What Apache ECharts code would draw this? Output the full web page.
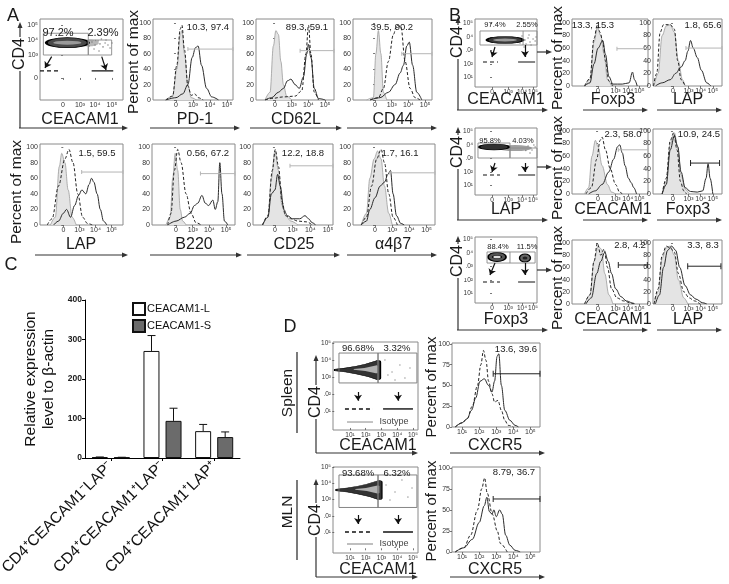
<!DOCTYPE html>
<html><head><meta charset="utf-8">
<script src="https://cdn.jsdelivr.net/npm/echarts@6/dist/echarts.min.js"></script>
<style>html,body{margin:0;padding:0;background:#fff}#c{width:729px;height:584px}</style>
</head><body><div id="c"></div>
<script>
// ---------------- DATA ----------------
// Panel C bar chart
const cCategories = ['CD4⁺CEACAM1⁻LAP⁻', 'CD4⁺CEACAM1⁺LAP⁻', 'CD4⁺CEACAM1⁺LAP⁺'];
const ceacamL = [2, 271, 68];
const ceacamLErr = [0.6, 39, 17];
const ceacamS = [1.5, 94, 53];
const ceacamSErr = [0.4, 32, 13];

// tick labels
const xTicksA = [0, 1, 2, 3];
const xLabelsA = ['0', '10³', '10⁴', '10⁵'];
const xTicksB1 = [0, 1.3, 2.2, 3.05];
const xTicksB2 = [0, 1.15, 2.05, 2.95];
const yTicksPct = [0, 20, 40, 60, 80, 100];
const yTicksD = [0, 25, 50, 75, 100];
const logTicks = [1, 2, 3, 4, 5];
const logLabels = ['10¹', '10²', '10³', '10⁴', '10⁵'];
const yTicksA1 = [0, 1.53, 2.53, 3.53];
const yLabelsA1 = ['0', '10³', '10⁴', '10⁵'];
const xTicksA1 = [0, 1.06, 2, 3.06];
const xTicksBdot = [0, 1.19, 2.22, 3.04];
const yTicksBdot = [0.75, 1.7, 2.75, 3.7, 4.75];

// Panel A histograms: isotype (grey fill), CEACAM1- (dashed), CEACAM1+ (solid)
const pd1Iso = [[-0.6,0],[-0.2,5],[0.05,40],[0.25,85],[0.35,90],[0.5,60],[0.7,20],[0.9,3],[1.2,0]];
const pd1Neg = [[-0.6,0],[-0.2,5],[0.05,45],[0.25,92],[0.35,97],[0.5,65],[0.7,18],[0.9,6],[1.1,8],[1.3,3],[1.6,0]];
const pd1Pos = [[-0.6,0],[0,3],[0.4,8],[0.7,20],[0.95,55],[1.15,68],[1.3,70],[1.5,45],[1.8,15],[2.1,4],[2.5,0]];
const pd1Gate = [0.7, 3.35, 66];
const cd62lIso = [[-0.6,0],[-0.3,10],[-0.1,70],[0.05,90],[0.2,85],[0.35,50],[0.5,20],[0.7,5],[1.0,0]];
const cd62lNeg = [[-0.6,0],[-0.2,2],[0.5,4],[1.2,5],[1.6,12],[1.85,60],[2.0,97],[2.15,60],[2.35,10],[2.6,0]];
const cd62lPos = [[-0.6,0],[-0.2,3],[0.2,10],[0.5,15],[0.75,25],[0.95,27],[1.2,20],[1.45,15],[1.7,30],[1.9,60],[2.0,72],[2.15,55],[2.35,15],[2.6,2],[3.0,0]];
const cd62lGate = [1.5, 3.53, 64];
const cd44Iso = [[-0.5,0],[-0.1,3],[0.05,60],[0.2,90],[0.35,60],[0.5,10],[0.7,0]];
const cd44Neg = [[-0.3,0],[0.2,3],[0.5,15],[0.8,50],[1.1,85],[1.3,97],[1.55,95],[1.8,50],[2.1,15],[2.4,3],[2.7,0]];
const cd44Pos = [[-0.3,0],[0.3,3],[0.8,10],[1.2,20],[1.5,35],[1.7,45],[1.9,70],[2.05,75],[2.25,45],[2.5,10],[2.8,0]];
const cd44Gate = [1.6, 3.41, 60];
const lapAIso = [[-0.8,0],[-0.5,10],[-0.25,75],[-0.1,92],[0.1,80],[0.3,45],[0.55,10],[0.8,0]];
const lapANeg = [[-1.0,0],[-0.7,8],[-0.3,50],[0.1,85],[0.35,97],[0.6,80],[0.9,40],[1.2,10],[1.5,2],[1.8,0]];
const lapAPos = [[-0.6,0],[-0.3,5],[0,15],[0.2,20],[0.45,10],[0.7,25],[0.95,38],[1.15,45],[1.4,40],[1.6,52],[1.75,60],[1.9,55],[2.1,40],[2.3,20],[2.5,5],[2.7,0]];
const lapAGate = [1.14, 3.71, 68];
const b220Iso = [[-0.6,0],[-0.35,10],[-0.2,60],[-0.05,92],[0.1,70],[0.25,20],[0.4,5],[0.6,0]];
const b220Neg = [[-0.5,0],[-0.3,15],[-0.1,70],[0.1,97],[0.3,80],[0.6,40],[0.9,15],[1.2,3],[1.5,0]];
const b220Pos = [[-0.5,0],[0,5],[0.5,10],[0.85,15],[1.1,25],[1.3,28],[1.55,38],[1.75,28],[1.95,25],[2.2,32],[2.35,20],[2.5,30],[2.62,80],[2.75,40],[2.9,5],[3.1,0]];
const b220Gate = [1.46, 3.53, 66];
const cd25Iso = [[-0.7,0],[-0.4,10],[-0.2,60],[0,95],[0.2,70],[0.4,25],[0.6,12],[0.9,5],[1.3,0]];
const cd25Neg = [[-0.7,0],[-0.4,12],[-0.15,70],[0.02,97],[0.2,75],[0.4,30],[0.6,12],[0.9,8],[1.3,5],[1.8,4],[2.1,0]];
const cd25Pos = [[-0.7,0],[-0.4,10],[-0.2,40],[0,45],[0.15,65],[0.3,50],[0.5,20],[0.7,12],[1.0,8],[1.4,8],[1.7,12],[1.9,8],[2.1,3],[2.3,0]];
const cd25Gate = [0.85, 3.28, 76];
const a4b7Iso = [[-0.8,0],[-0.5,15],[-0.3,60],[-0.05,85],[0.15,95],[0.35,85],[0.55,50],[0.8,15],[1.0,0]];
const a4b7Neg = [[-0.8,0],[-0.5,10],[-0.2,50],[0.1,85],[0.35,97],[0.55,80],[0.8,40],[1.05,10],[1.3,0]];
const a4b7Pos = [[-0.8,0],[-0.5,5],[-0.3,20],[0,35],[0.3,50],[0.55,55],[0.75,65],[0.9,70],[1.05,40],[1.25,12],[1.5,2],[1.7,0]];
const a4b7Gate = [0.87, 3.49, 67];

// Panel B histograms
const foxp3B1Iso = [[-1.0,0],[-0.6,10],[-0.3,70],[-0.05,92],[0.2,80],[0.45,50],[0.7,10],[1.0,0]];
const foxp3B1Neg = [[-1.0,0],[-0.6,12],[-0.3,75],[-0.05,97],[0.15,85],[0.35,70],[0.55,40],[0.8,8],[1.1,0]];
const foxp3B1Pos = [[-1.0,0],[-0.6,5],[-0.3,35],[0,60],[0.35,72],[0.55,50],[0.8,15],[1.1,3],[1.8,3],[2.3,5],[2.55,22],[2.7,10],[2.9,0]];
const foxp3B1Gate = [1.4, 3.7, 59];
const lapB1Iso = [[-1.4,0],[-1.1,20],[-0.8,80],[-0.5,95],[-0.2,97],[0.1,85],[0.4,40],[0.7,10],[0.9,0]];
const lapB1Neg = [[-1.45,0],[-1.2,20],[-0.95,85],[-0.7,97],[-0.2,97],[0.1,90],[0.35,40],[0.6,10],[0.9,0]];
const lapB1Pos = [[-1.3,0],[-0.8,5],[-0.2,10],[0.2,20],[0.6,30],[0.9,40],[1.1,55],[1.3,72],[1.5,60],[1.8,45],[2.1,25],[2.5,5],[2.8,0]];
const lapB1Gate = [0.96, 3.63, 60];
const ceacamB2Iso = [[-1.0,0],[-0.7,10],[-0.45,60],[-0.2,85],[0,75],[0.3,45],[0.7,15],[1.0,3],[1.3,0]];
const ceacamB2Neg = [[-0.9,0],[-0.5,10],[-0.1,55],[0.15,85],[0.3,90],[0.55,70],[0.9,40],[1.3,15],[1.6,3],[1.8,0]];
const ceacamB2Pos = [[-0.7,0],[-0.2,5],[0.3,15],[0.8,35],[1.15,55],[1.45,75],[1.6,78],[1.8,65],[2.0,45],[2.25,25],[2.45,18],[2.65,10],[2.85,0]];
const ceacamB2Gate = [1.5, 3.7, 70];
const foxp3B2Iso = [[-0.8,0],[-0.5,20],[-0.2,80],[0.1,97],[0.35,75],[0.6,30],[0.9,8],[1.2,0]];
const foxp3B2Neg = [[-0.8,0],[-0.5,25],[-0.2,85],[0.05,97],[0.3,70],[0.55,20],[0.8,5],[1.0,0]];
const foxp3B2Pos = [[-0.8,0],[-0.5,15],[-0.2,70],[0.1,92],[0.35,75],[0.6,35],[0.9,10],[1.3,4],[1.8,3],[2.2,5],[2.45,25],[2.6,48],[2.75,25],[2.95,0]];
const foxp3B2Gate = [1.3, 3.45, 49];
const ceacamB3Iso = [[-1.0,0],[-0.6,15],[-0.3,70],[0,95],[0.25,90],[0.5,50],[0.8,15],[1.1,0]];
const ceacamB3Neg = [[-1.0,0],[-0.6,15],[-0.3,70],[-0.05,100],[0.2,80],[0.45,90],[0.7,60],[1.0,25],[1.4,10],[1.9,5],[2.4,2],[2.8,0]];
const ceacamB3Pos = [[-0.9,0],[-0.5,10],[-0.1,50],[0.2,70],[0.5,85],[0.75,70],[1.0,50],[1.3,25],[1.7,12],[2.1,5],[2.6,0]];
const ceacamB3Gate = [1.5, 3.65, 64];
const lapB3Iso = [[-1.4,0],[-1.1,20],[-0.8,75],[-0.5,92],[-0.2,95],[0.1,80],[0.4,40],[0.8,10],[1.1,0]];
const lapB3Neg = [[-1.4,0],[-1.1,25],[-0.8,80],[-0.5,95],[-0.2,92],[0.1,85],[0.4,50],[0.8,20],[1.2,10],[1.6,5],[2.0,0]];
const lapB3Pos = [[-1.3,0],[-1.0,15],[-0.7,60],[-0.4,88],[-0.1,95],[0.2,88],[0.5,60],[0.9,30],[1.3,15],[1.7,8],[2.2,2],[2.5,0]];
const lapB3Gate = [1.09, 3.55, 62];

// Panel D histograms (CXCR5)
const cxcr5SpleenNeg = [[0.6,0],[1.0,5],[1.3,10],[1.6,25],[1.9,50],[2.1,75],[2.25,92],[2.4,80],[2.55,55],[2.75,40],[2.9,30],[3.1,32],[3.3,20],[3.5,8],[3.7,2],[4.0,0]];
const cxcr5SpleenPos = [[0.6,0],[1.0,5],[1.3,10],[1.55,20],[1.8,35],[2.05,55],[2.3,58],[2.55,50],[2.75,42],[2.9,55],[3.05,85],[3.15,88],[3.3,50],[3.5,20],[3.8,8],[4.1,2],[4.3,0]];
const cxcr5SpleenGate = [2.82, 5.56, 64];
const cxcr5MlnNeg = [[0.6,0],[1.1,5],[1.5,20],[1.9,50],[2.15,75],[2.32,88],[2.47,70],[2.77,45],[3.06,25],[3.25,10],[3.64,0]];
const cxcr5MlnPos = [[0.6,0],[1.1,5],[1.6,15],[2.0,35],[2.3,55],[2.45,65],[2.6,48],[2.75,45],[2.86,50],[3.0,42],[3.2,50],[3.35,45],[3.55,20],[3.8,8],[4.1,2],[4.4,0]];
const cxcr5MlnGate = [2.82, 5.56, 63];

// Dot plots: population centres, sparse events, gates [x1,x2,y1,y2(,divider)]
const a1Pop = [[0.27, 2.35]];
const a1Tail = [[1.56, 2.33]];
const a1Sparse = [[1.81,2.4],[2.0,2.2],[2.19,2.47],[2.31,2.27],[2.5,2.07],[2.63,2.33],[2.81,2.2],[1.94,1.93],[2.25,1.8],[2.69,2.53],[2.94,2.0],[1.63,2.13],[3.06,2.33],[1.44,2.27],[2.4,2.6],[2.05,2.5]];
const a1GateNeg = [-1.23, 1.58, 1.53, 2.98];
const a1GatePos = [1.58, 3.04, 1.53, 2.53];
const b1Pop = [[0.96, 3.48]];
const b1Sparse = [[2.22,3.78],[2.44,3.48],[2.67,3.63],[2.81,3.33],[3.04,3.56],[2.52,3.19],[2.89,3.11],[3.19,3.41],[3.26,3.7],[2.07,3.26],[2.37,2.96],[2.74,3.85]];
const b1Gate = [-0.89, 3.33, 3.11, 4.15, 2.3];
const b2Pop = [[0.15, 3.56]];
const b2Tail = [[1.7, 3.48]];
const b2Sparse = [[2.67,3.63],[2.96,3.33],[3.19,3.56],[2.81,3.11],[3.1,3.7],[2.5,3.3]];
const b2GateNeg = [-1.04, 1.33, 2.74, 3.85];
const b2GatePos = [1.33, 3.33, 2.74, 3.48];
const b3PopNeg = [[0.37, 3.41]];
const b3PopPos = [[2.44, 3.33]];
const b3Gate = [-0.37, 3.19, 2.96, 3.78, 1.33];
const spleenPop = [[1.48, 3.41]];
const spleenCore = [[2.0, 3.45]];
const spleenSparse = [[3.22,4.0],[3.67,3.29],[4.17,3.71],[4.49,2.94],[3.86,2.82],[4.81,3.53],[3.41,3.12]];
const spleenGateNeg = [0.3, 2.78, 2.65, 4.41];
const spleenGatePos = [2.78, 5.25, 2.65, 4.41];
const mlnPop = [[1.57, 3.58]];
const mlnCore = [[2.1, 3.62]];
const mlnSparse = [[3.29,3.89],[3.86,3.46],[4.3,4.2],[4.68,3.15],[3.54,2.97],[4.94,3.71]];
const mlnGateNeg = [0.3, 2.78, 2.51, 4.51];
const mlnGatePos = [2.78, 5.25, 2.51, 4.51];

// ---------------- BUILD ----------------
const FONT = "'Liberation Sans', Arial, Helvetica, sans-serif";
const grid = [], xAxis = [], yAxis = [], series = [], graphic = [];

function labelFmt(ticks, labels) {
  return v => { const k = ticks.findIndex(t => Math.abs(t - v) < 1e-6); return k >= 0 ? labels[k] : ''; };
}
function valAxis(min, max, ticks, labels, fs, extra) {
  return Object.assign({
    type: 'value', min, max,
    axisLine: {show: false}, splitLine: {show: false},
    axisTick: {show: true, customValues: ticks, length: 2, lineStyle: {color: '#555', width: 0.8}},
    axisLabel: {show: true, customValues: ticks, fontSize: fs, color: '#333', margin: 2, fontFamily: FONT,
      formatter: labelFmt(ticks, labels)}
  }, extra || {});
}
function addGrid(rect, xa, ya, show) {
  const i = grid.length;
  grid.push({left: rect[0], top: rect[1], width: rect[2], height: rect[3], show: show !== false,
    borderColor: '#8a8a8a', borderWidth: 1, backgroundColor: 'transparent', outerBoundsMode: 'none'});
  xa.gridIndex = i; ya.gridIndex = i;
  xAxis.push(xa); yAxis.push(ya);
  return i;
}
function curve(gi, data, kind) {
  const s = {type: 'line', xAxisIndex: gi, yAxisIndex: gi, data, smooth: 0.35, smoothMonotone: 'x',
    symbol: 'none', silent: true, animation: false, z: 3, clip: true};
  if (kind === 'iso') { s.lineStyle = {color: '#9b9b9b', width: 0.8}; s.areaStyle = {color: '#e4e4e4', opacity: 1}; s.z = 2; }
  else if (kind === 'neg') s.lineStyle = {color: '#222', width: 1, type: [3, 2]};
  else s.lineStyle = {color: '#2a2a2a', width: 1};
  series.push(s);
}
function gateLine(gi, g, dark) {
  const c = dark ? '#222' : '#b5b5b5';
  series.push({type: 'line', xAxisIndex: gi, yAxisIndex: gi, data: [[g[0], g[2]], [g[1], g[2]]],
    symbol: 'rect', symbolSize: [1, dark ? 6 : 4], showSymbol: true, lineStyle: {color: c, width: 1},
    itemStyle: {color: c}, silent: true, animation: false, z: 4, clip: false});
}
function hist(rect, xr, xt, xl, ymax, yt, curves, gate, dark, note, notePos) {
  const gi = addGrid(rect,
    valAxis(xr[0], xr[1], xt, xl, 7),
    valAxis(0, ymax, yt, yt.map(String), 7));
  if (curves[0]) curve(gi, curves[0], 'iso');
  curve(gi, curves[1], 'neg');
  curve(gi, curves[2], 'pos');
  gateLine(gi, gate, dark);
  txt(note, notePos[0], notePos[1], 9.5);
  return gi;
}
function poly(gi, pts, color, width, type, z) {
  series.push({type: 'line', xAxisIndex: gi, yAxisIndex: gi, data: pts, symbol: 'none',
    lineStyle: {color, width, type: type || 'solid'}, silent: true, animation: false, z: z || 5, clip: false});
}
function gateRect(gi, g, color) {
  poly(gi, [[g[0], g[2]], [g[1], g[2]], [g[1], g[3]], [g[0], g[3]], [g[0], g[2]]], color || '#8a8a8a', 0.9);
  if (g.length > 4) poly(gi, [[g[4], g[2]], [g[4], g[3]]], color || '#8a8a8a', 0.9);
}
const ELLIPSE = 'path://M0 50A50 50 0 1 0 100 50A50 50 0 1 0 0 50Z';
const WEDGE = 'path://M0 46 Q50 36 92 2 Q100 0 100 10 L100 90 Q100 100 92 98 Q50 64 0 54 Z';
function blob(gi, pts, size, fill, stroke, lw, symbol, z) {
  series.push({type: 'scatter', xAxisIndex: gi, yAxisIndex: gi, data: pts, symbol: symbol || ELLIPSE,
    symbolSize: size, itemStyle: {color: fill, borderColor: stroke || fill, borderWidth: lw || 0, opacity: 1},
    silent: true, animation: false, z: z || 3});
}
function dots(gi, pts, size, color) {
  series.push({type: 'scatter', xAxisIndex: gi, yAxisIndex: gi, data: pts, symbol: 'circle', symbolSize: size || 1.6,
    itemStyle: {color: color || '#777'}, silent: true, animation: false, z: 3});
}
function arrowsIn(gi, arr) {
  series.push({type: 'lines', coordinateSystem: 'cartesian2d', xAxisIndex: gi, yAxisIndex: gi,
    data: arr.map(a => ({coords: [[a[0], a[1]], [a[2], a[3]]]})), symbol: ['none', 'arrow'], symbolSize: 6,
    lineStyle: {color: '#111', width: 1.2, opacity: 1}, silent: true, animation: false, z: 6});
}
function markers(gi, dashSeg, solidSeg, w) {
  poly(gi, [[dashSeg[0], dashSeg[2]], [dashSeg[1], dashSeg[2]]], '#111', w || 1.3, [4, 3]);
  poly(gi, [[solidSeg[0], solidSeg[2]], [solidSeg[1], solidSeg[2]]], '#111', w || 1.3);
}
function txt(s, x, y, fs, rot, extra) {
  graphic.push({type: 'text', x, y, rotation: rot || 0, z: 20,
    style: Object.assign({text: s, fontSize: fs, fontFamily: FONT, fill: '#1a1a1a', align: 'center', verticalAlign: 'middle'}, extra || {})});
}
function arrowH(x1, x2, y) {
  graphic.push({type: 'line', z: 15, shape: {x1, y1: y, x2: x2 - 4, y2: y}, style: {stroke: '#333', lineWidth: 1.2}});
  graphic.push({type: 'polygon', z: 15, shape: {points: [[x2, y], [x2 - 6, y - 2.5], [x2 - 6, y + 2.5]]}, style: {fill: '#333'}});
}
function arrowV(x, y1, y2) {
  graphic.push({type: 'line', z: 15, shape: {x1: x, y1, x2: x, y2: y2 + 4}, style: {stroke: '#333', lineWidth: 1.2}});
  graphic.push({type: 'polygon', z: 15, shape: {points: [[x, y2], [x - 2.5, y2 + 6], [x + 2.5, y2 + 6]]}, style: {fill: '#333'}});
}
const ROT = Math.PI / 2;
const WHITE = {backgroundColor: '#fff', padding: [0, 1]};

// ---- Panel A ----
txt('A', 13, 16, 18);
{
  const gi = addGrid([40, 19, 83, 81], valAxis(-1.44, 3.75, xTicksA1, xLabelsA, 7), valAxis(-1.47, 3.93, yTicksA1, yLabelsA1, 7));
  blob(gi, a1Tail, [22, 7], '#b8b8b8', null, 0, null, 2);
  dots(gi, a1Sparse, 1.6, '#707070');
  blob(gi, a1Pop, [42, 10], '#4a4a4a', '#000', 1.5, null, 3);
  blob(gi, a1Pop, [28, 4], '#9a9a9a', null, 0, null, 4);
  gateRect(gi, a1GateNeg); gateRect(gi, a1GatePos);
  arrowsIn(gi, [[-0.71, 1.42, -1.13, 0.67], [2.42, 1.42, 2.69, 0.53]]);
  markers(gi, [-1.44, -0.25, 0.47], [1.79, 3.14, 0.47]);
  txt('97.2%', 58, 33, 11); txt('2.39%', 103, 33, 11);
}
arrowV(20, 128, 22); txt('CD4', 20, 54, 16, ROT, WHITE);
arrowH(19, 128, 128); txt('CEACAM1', 80, 120, 16);
txt('Percent of max', 134, 62, 15.5, ROT);

hist([153, 19, 80, 81], [-1.35, 3.35], xTicksA, xLabelsA, 105, yTicksPct, [pd1Iso, pd1Neg, pd1Pos], pd1Gate, false, '10.3, 97.4', [208, 27]);
hist([256, 19, 78, 81], [-1.14, 3.53], xTicksA, xLabelsA, 105, yTicksPct, [cd62lIso, cd62lNeg, cd62lPos], cd62lGate, false, '89.3, 59.1', [307, 27]);
hist([353, 19, 79, 81], [-1.32, 3.41], xTicksA, xLabelsA, 105, yTicksPct, [cd44Iso, cd44Neg, cd44Pos], cd44Gate, false, '39.5, 90.2', [392, 27]);
arrowH(150, 240, 128); txt('PD-1', 195, 120, 16);
arrowH(250, 342, 128); txt('CD62L', 296, 120, 16);
arrowH(347, 437, 128); txt('CD44', 393, 120, 16);

hist([40, 144, 83, 81], [-1.45, 3.71], xTicksA, xLabelsA, 104, yTicksPct, [lapAIso, lapANeg, lapAPos], lapAGate, false, '1.5, 59.5', [97, 153]);
hist([152, 144, 83, 81], [-1.44, 3.53], xTicksA, xLabelsA, 104, yTicksPct, [b220Iso, b220Neg, b220Pos], b220Gate, false, '0.56, 67.2', [208, 153]);
hist([253, 144, 80, 81], [-1.24, 3.28], xTicksA, xLabelsA, 104, yTicksPct, [cd25Iso, cd25Neg, cd25Pos], cd25Gate, false, '12.2, 18.8', [303, 153]);
hist([353, 144, 82, 81], [-1.28, 3.49], xTicksA, xLabelsA, 104, yTicksPct, [a4b7Iso, a4b7Neg, a4b7Pos], a4b7Gate, false, '1.7, 16.1', [400, 153]);
txt('Percent of max', 17, 192, 15.5, ROT);
arrowH(35, 128, 255); txt('LAP', 81, 245, 16);
arrowH(150, 242, 255); txt('B220', 194, 245, 16);
arrowH(247, 340, 255); txt('CD25', 294, 245, 16);
arrowH(347, 437, 255); txt('α4β7', 393, 245, 16);

// ---- Panel B ----
txt('B', 455, 16, 18);
function bDot(top, h) {
  return addGrid([475, top, 62, h], valAxis(-1.26, 3.33, xTicksBdot, xLabelsA, 6.5), valAxis(0, h / 13.5, yTicksBdot, logLabels, 6.5));
}
{
  const gi = bDot(19, 68);
  dots(gi, b1Sparse, 1.5, '#6a6a6a');
  blob(gi, b1Pop, [36, 7], '#3a3a3a', '#000', 1.3);
  blob(gi, b1Pop, [24, 3], '#9a9a9a', null, 0, null, 4);
  gateRect(gi, b1Gate);
  arrowsIn(gi, [[0.22, 2.96, 0, 2.22], [2.44, 3.11, 2.44, 2.22]]);
  markers(gi, [-0.67, 0.44, 1.85], [1.93, 3.19, 1.85], 1.1);
  txt('97.4%', 495, 25, 7.5); txt('2.55%', 527, 25, 7.5);
}
{
  const gi = bDot(128, 67);
  blob(gi, b2Tail, [34, 6], '#a0a0a0', null, 0, null, 2);
  dots(gi, b2Sparse, 1.5, '#6a6a6a');
  blob(gi, b2Pop, [30, 6], '#333', '#000', 1.2);
  gateRect(gi, b2GateNeg); gateRect(gi, b2GatePos);
  arrowsIn(gi, [[0.22, 2.37, 0, 1.7], [2.44, 2.37, 2.44, 1.7]]);
  markers(gi, [-0.67, 0.59, 1.48], [1.93, 3.19, 1.48], 1.1);
  txt('95.8%', 490, 141, 7.5); txt('4.03%', 523, 141, 7.5);
}
{
  const gi = bDot(237, 66);
  blob(gi, b3PopNeg, [18, 9], '#555', '#000', 1.3);
  blob(gi, b3PopNeg, [9, 3], '#ddd', '#000', 0.8, null, 4);
  blob(gi, b3PopPos, [11, 8], '#666', '#000', 1.2);
  blob(gi, b3PopPos, [5, 3], '#222', null, 0, null, 4);
  gateRect(gi, b3Gate);
  arrowsIn(gi, [[0.22, 2.96, -0.15, 2.07], [2.44, 2.96, 2.44, 2.07]]);
  markers(gi, [-0.67, 0.59, 1.56], [1.93, 3.19, 1.56], 1.1);
  txt('88.4%', 498, 247, 7.5); txt('11.5%', 527, 247, 7.5);
}
[[110, 17, 52, 'CEACAM1', 'Foxp3', 'LAP'], [220, 127, 167, 'LAP', 'CEACAM1', 'Foxp3'], [330, 236, 270, 'Foxp3', 'CEACAM1', 'LAP']].forEach((r, k) => {
  arrowV(458, r[0], r[1]); txt('CD4', 458, r[1] + 25, 16, ROT, WHITE);
  arrowH(457, 548, r[0]); txt(r[3], 506, r[0] - 10, 16);
  arrowH(537, 552, r[2]);
  txt('Percent of max', 558, r[0] - 52, 15.5, ROT);
  arrowH(583, 648, r[0]); txt(r[4], 613, r[0] - 10, 16);
  arrowH(657, 722, r[0]); txt(r[5], 688, r[0] - 10, 16);
});
hist([572, 19, 76, 67], [-1.93, 3.7], xTicksB1, xLabelsA, 106, yTicksPct, [foxp3B1Iso, foxp3B1Neg, foxp3B1Pos], foxp3B1Gate, false, '13.3, 15.3', [593, 25]);
hist([653, 19, 69, 67], [-1.48, 3.63], xTicksB2, xLabelsA, 106, yTicksPct, [lapB1Iso, lapB1Neg, lapB1Pos], lapB1Gate, false, '1.8, 65.6', [703, 25]);
hist([572, 129, 76, 65], [-1.93, 3.7], xTicksB1, xLabelsA, 103, yTicksPct, [ceacamB2Iso, ceacamB2Neg, ceacamB2Pos], ceacamB2Gate, false, '2.3, 58.0', [623, 134]);
hist([653, 129, 69, 65], [-1.48, 3.63], xTicksB2, xLabelsA, 103, yTicksPct, [foxp3B2Iso, foxp3B2Neg, foxp3B2Pos], foxp3B2Gate, true, '10.9, 24.5', [699, 134]);
hist([572, 240, 76, 64], [-1.93, 3.7], xTicksB1, xLabelsA, 105, yTicksPct, [ceacamB3Iso, ceacamB3Neg, ceacamB3Pos], ceacamB3Gate, true, '2.8, 4.2', [630, 245]);
hist([653, 240, 69, 64], [-1.48, 3.63], xTicksB2, xLabelsA, 105, yTicksPct, [lapB3Iso, lapB3Neg, lapB3Pos], lapB3Gate, true, '3.3, 8.3', [703, 245]);

// ---- Panel C ----
txt('C', 11, 265, 18);
const gc = addGrid([85, 300, 155, 158],
  {type: 'category', data: cCategories,
    axisLine: {show: true, lineStyle: {color: '#000', width: 1}},
    axisTick: {show: true, alignWithLabel: true, length: 3, lineStyle: {color: '#000'}},
    axisLabel: {interval: 0, rotate: 45, fontSize: 15.5, fontFamily: FONT, color: '#111', margin: 6}},
  {type: 'value', min: 0, max: 400, interval: 100,
    name: 'Relative expression\nlevel to β-actin', nameLocation: 'middle', nameGap: 27, nameRotate: 90,
    nameTextStyle: {fontSize: 15.5, fontFamily: FONT, color: '#111', lineHeight: 18},
    axisLine: {show: true, lineStyle: {color: '#000', width: 1}},
    axisTick: {show: true, length: 3, lineStyle: {color: '#000'}},
    splitLine: {show: false},
    axisLabel: {fontSize: 8.5, fontWeight: 'bold', fontFamily: FONT, color: '#222', margin: 3}}, false);
series.push({name: 'CEACAM1-L', type: 'bar', xAxisIndex: gc, yAxisIndex: gc, data: ceacamL, barWidth: 16, barGap: '38%',
  itemStyle: {color: '#fff', borderColor: '#111', borderWidth: 1}, animation: false});
series.push({name: 'CEACAM1-S', type: 'bar', xAxisIndex: gc, yAxisIndex: gc, data: ceacamS, barWidth: 16, barGap: '38%',
  itemStyle: {color: '#6b6b6b', borderColor: '#111', borderWidth: 1}, animation: false});
function errSeries(vals, errs, side) {
  series.push({type: 'custom', xAxisIndex: gc, yAxisIndex: gc, animation: false, silent: true, z: 5,
    data: vals.map((v, i) => [i, v, v + errs[i]]),
    renderItem: (params, api) => {
      const p0 = api.coord([api.value(0), api.value(1)]);
      const p1 = api.coord([api.value(0), api.value(2)]);
      const x = p0[0] + side * 11;
      return {type: 'group', children: [
        {type: 'line', shape: {x1: x, y1: p0[1], x2: x, y2: p1[1]}, style: {stroke: '#111', lineWidth: 1}},
        {type: 'line', shape: {x1: x - 4, y1: p1[1], x2: x + 4, y2: p1[1]}, style: {stroke: '#111', lineWidth: 1}}]};
    }});
}
errSeries(ceacamL, ceacamLErr, -1);
errSeries(ceacamS, ceacamSErr, 1);

// ---- Panel D ----
txt('D', 290, 327, 18);
txt('Spleen', 288, 393, 15.5, ROT);
graphic.push({type: 'line', z: 15, shape: {x1: 297, y1: 352, x2: 297, y2: 433}, style: {stroke: '#222', lineWidth: 1.2}});
txt('MLN', 288, 512, 15.5, ROT);
graphic.push({type: 'line', z: 15, shape: {x1: 297, y1: 480, x2: 297, y2: 560}, style: {stroke: '#222', lineWidth: 1.2}});
function dDot(top, h, ymin, ymax, pop, core, sparse, gNeg, gPos, p1, p2, ya, ym, yi) {
  const gi = addGrid([333, top, 85, h], valAxis(-0.08, 5.32, logTicks, logLabels, 6.5), valAxis(ymin, ymax, logTicks, logLabels, 6.5));
  dots(gi, sparse, 1.6, '#8a8a8a');
  blob(gi, pop, [46, 19], '#333', '#000', 0.8, WEDGE, 3);
  blob(gi, core, [24, 8], '#b0b0b0', null, 0, WEDGE, 4);
  gateRect(gi, gNeg, '#777'); gateRect(gi, gPos, '#777');
  arrowsIn(gi, [[1.51, ya, 1.51, ym], [4.05, ya, 4.05, ym]]);
  markers(gi, [0.68, 2.46, yi[0]], [3.1, 5.0, yi[0]], 1.4);
  poly(gi, [[0.81, yi[1]], [2.46, yi[1]]], '#aaa', 1.4);
  txt(p1, 358, top + 6, 9.5); txt(p2, 397, top + 6, 9.5);
  return gi;
}
dDot(342, 88, -0.12, 5.06, spleenPop, spleenCore, spleenSparse, spleenGateNeg, spleenGatePos, '96.68%', '3.32%', 2.12, 1.6, [1.12, 0.35]);
txt('Isotype', 394, 422, 9, 0, {fill: '#444'});
dDot(467, 86, -0.29, 5.0, mlnPop, mlnCore, mlnSparse, mlnGateNeg, mlnGatePos, '93.68%', '6.32%', 2.05, 1.5, [1.0, 0.26]);
txt('Isotype', 394, 544, 9, 0, {fill: '#444'});
hist([452, 343, 88, 84], [0.41, 5.56], logTicks, logLabels, 101, yTicksD, [null, cxcr5SpleenNeg, cxcr5SpleenPos], cxcr5SpleenGate, true, '13.6, 39.6', [516, 349]);
hist([452, 467, 88, 85], [0.41, 5.56], logTicks, logLabels, 101, yTicksD, [null, cxcr5MlnNeg, cxcr5MlnPos], cxcr5MlnGate, true, '8.79, 36.7', [514, 472]);
[[453, 402], [577, 520]].forEach(r => {
  arrowV(316, r[0], r[0] - 98); txt('CD4', 316, r[1], 16, ROT, WHITE);
  arrowH(316, 418, r[0]); txt('CEACAM1', 378, r[0] - 7, 16);
  arrowH(450, 545, r[0]); txt('CXCR5', 495, r[0] - 7, 16);
  txt('Percent of max', 432, r[0] - 66, 15, ROT);
});

const chart = echarts.init(document.getElementById('c'), null, {renderer: 'canvas'});
chart.setOption({
  animation: false,
  backgroundColor: '#fff',
  textStyle: {fontFamily: FONT},
  legend: {data: ['CEACAM1-L', 'CEACAM1-S'], left: 127, top: 297, orient: 'vertical', itemWidth: 12, itemHeight: 12,
    itemGap: 3, icon: 'rect', selectedMode: false, textStyle: {fontSize: 11, fontFamily: FONT, color: '#111', padding: [0, 0, 0, -3]}},
  grid, xAxis, yAxis, series, graphic
});
</script></body></html>
